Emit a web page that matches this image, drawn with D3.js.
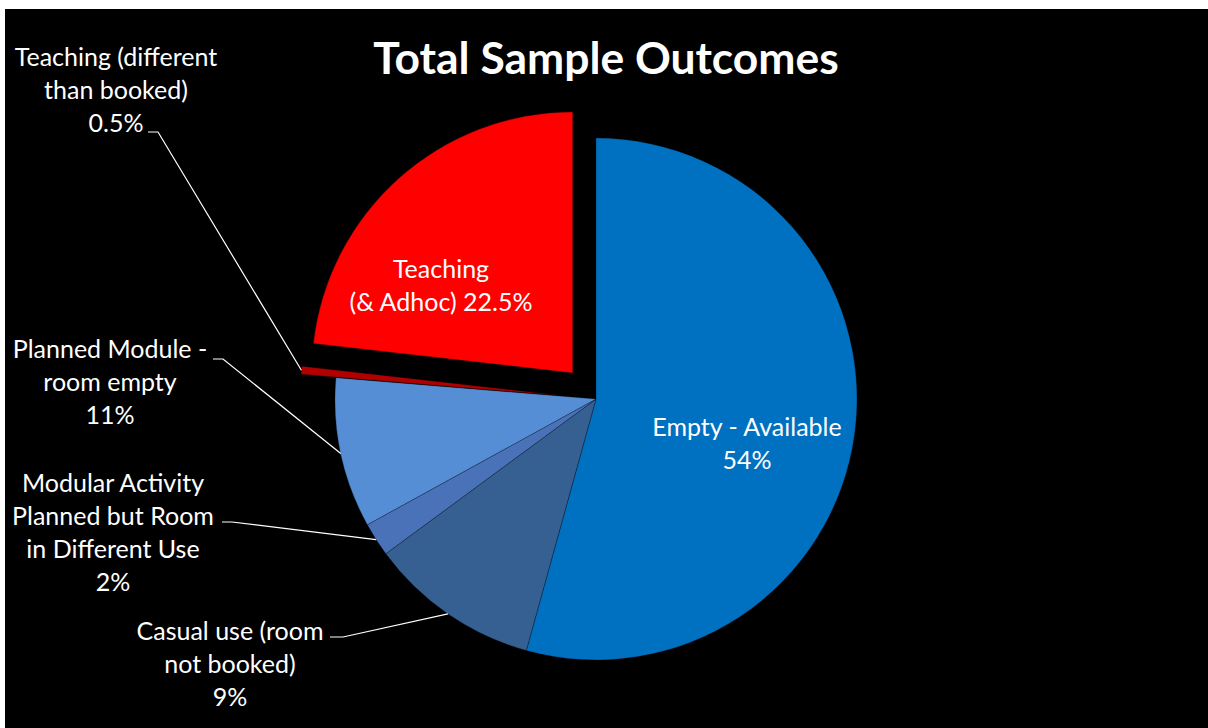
<!DOCTYPE html>
<html>
<head>
<meta charset="utf-8">
<script src="https://cdn.jsdelivr.net/npm/d3@7"></script>
<style>
  html, body { margin: 0; padding: 0; background: #ffffff; }
  svg { display: block; }
</style>
</head>
<body>
<svg id="chart" width="1208" height="728"></svg>
<script>
// ---- data ----
const categories = [
  "Empty - Available",
  "Casual use (room not booked)",
  "Modular Activity Planned but Room in Different Use",
  "Planned Module - room empty",
  "Teaching (different than booked)",
  "Teaching (& Adhoc)"
];
const values = [54.3, 10.6, 2.1, 9.3, 0.5, 23.2];
const labelTexts = [
  ["Empty - Available", "54%"],
  ["Casual use (room", "not booked)", "9%"],
  ["Modular Activity", "Planned but Room", "in Different Use", "2%"],
  ["Planned Module -", "room empty", "11%"],
  ["Teaching (different", "than booked)", "0.5%"],
  ["Teaching", "(& Adhoc) 22.5%"]
];
const exploded = [false, false, false, false, true, true];
const title = "Total Sample Outcomes";

// ---- style / layout ----
const colors = ["#0070C0", "#366092", "#4A72B8", "#558ED5", "#B00000", "#FF0000"];
const W = 1208, H = 728;
const cx = 596, cy = 399, R = 261, explodeDist = 35;
const fontFamily = "Lato, 'Open Sans', sans-serif";
const lineGap = 33;
// label layout: center x, first baseline y, leader start (x,y), horizontal tick length; null = inside label
const labelLayout = [
  {x: 747, y: 436, leader: null},
  {x: 230, y: 640, leader: {x: 330, y: 637, h: 13}},
  {x: 113, y: 492, leader: {x: 222, y: 522, h: 10}},
  {x: 110, y: 358, leader: {x: 213, y: 359, h: 10}},
  {x: 116, y: 66,  leader: {x: 148, y: 132, h: 10}},
  {x: 441, y: 278, leader: null}
];

const svg = d3.select("#chart");

// background panel
svg.append("rect").attr("x", 0).attr("y", 0).attr("width", W).attr("height", H).attr("fill", "#ffffff");
svg.append("rect").attr("x", 5).attr("y", 9).attr("width", W - 5).attr("height", H - 9).attr("fill", "#000000");

// title
svg.append("text")
  .attr("x", 606).attr("y", 74)
  .attr("text-anchor", "middle")
  .attr("font-family", fontFamily)
  .attr("font-weight", "bold")
  .attr("font-size", 44.4)
  .attr("fill", "#ffffff")
  .text(title);

const pie = d3.pie().sort(null).value(d => d)(values);
const arc = d3.arc().innerRadius(0).outerRadius(R);

function offsetOf(i) {
  if (!exploded[i]) return [0, 0];
  const a = (pie[i].startAngle + pie[i].endAngle) / 2;
  return [Math.sin(a) * explodeDist, -Math.cos(a) * explodeDist];
}

const g = svg.append("g").attr("transform", `translate(${cx},${cy})`);
g.selectAll("path.slice")
  .data(pie)
  .join("path")
  .attr("class", "slice")
  .attr("transform", (d, i) => { const o = offsetOf(i); return `translate(${o[0]},${o[1]})`; })
  .attr("d", arc)
  .attr("fill", (d, i) => colors[i])
  .attr("stroke", "rgba(0,0,0,0.35)")
  .attr("stroke-width", 0.75);

// labels
pie.forEach((d, i) => {
  const L = labelLayout[i];
  const t = svg.append("text")
    .attr("text-anchor", "middle")
    .attr("font-family", fontFamily)
    .attr("font-size", 25)
    .attr("fill", "#ffffff");
  labelTexts[i].forEach((line, k) => {
    t.append("tspan").attr("x", L.x).attr("y", L.y + k * lineGap).text(line);
  });
  if (L.leader) {
    const a = (d.startAngle + d.endAngle) / 2;
    const o = offsetOf(i);
    const ex = cx + o[0] + Math.sin(a) * R;
    const ey = cy + o[1] - Math.cos(a) * R;
    const p = d3.path();
    p.moveTo(L.leader.x, L.leader.y);
    p.lineTo(L.leader.x + L.leader.h, L.leader.y);
    p.lineTo(ex, ey);
    svg.append("path").attr("d", p.toString())
      .attr("fill", "none").attr("stroke", "#ffffff").attr("stroke-width", 1.2);
  }
});
</script>
</body>
</html>
